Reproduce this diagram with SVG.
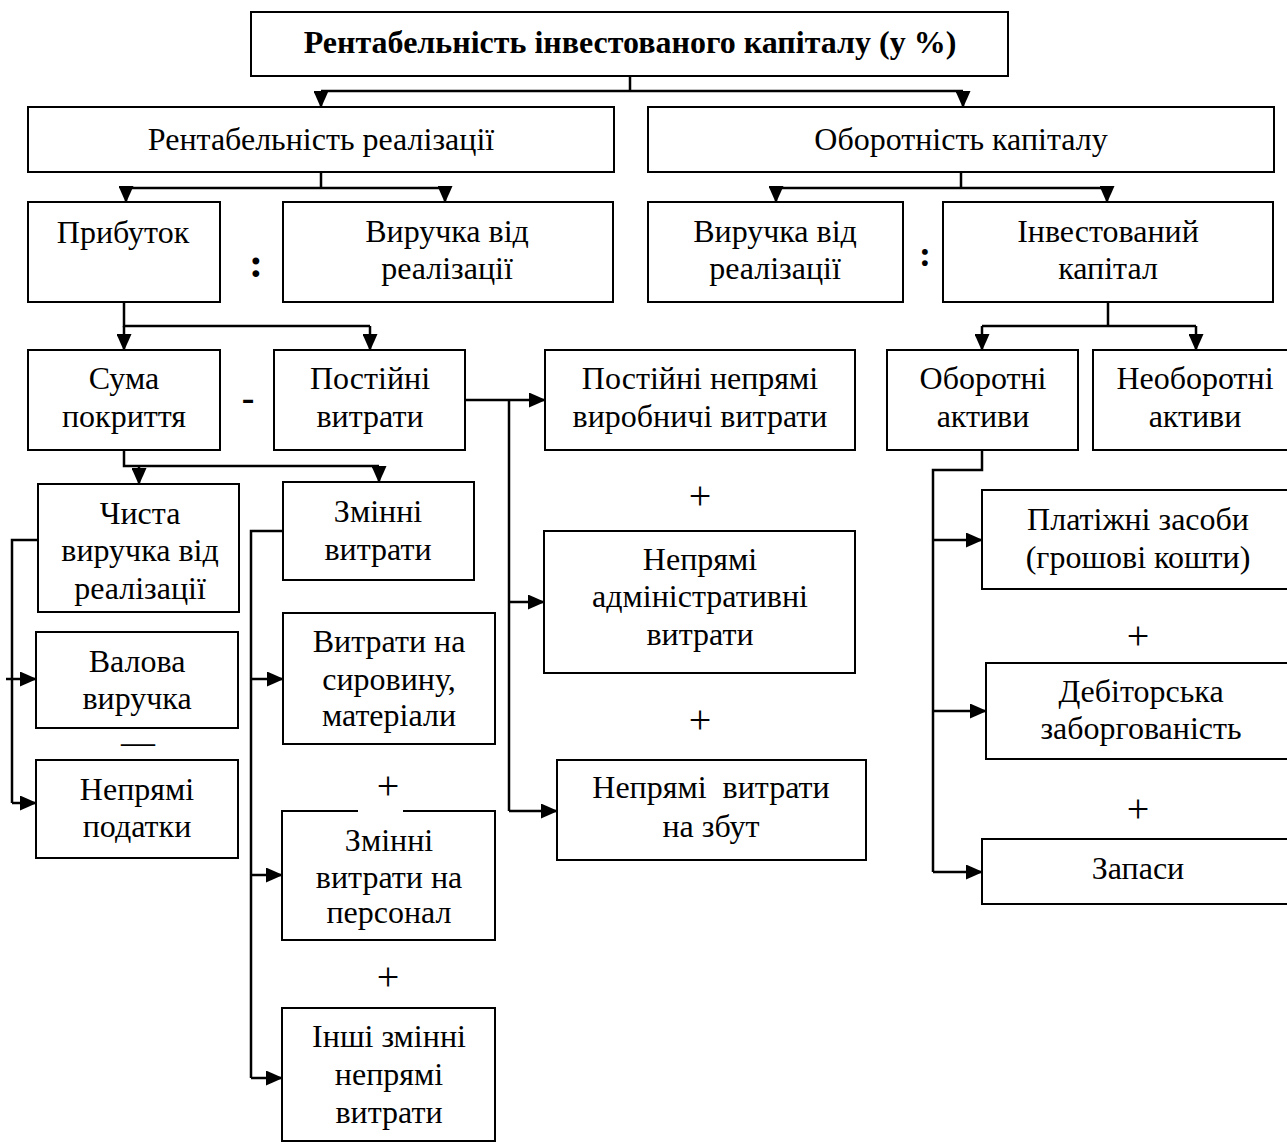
<svg xmlns="http://www.w3.org/2000/svg" width="1287" height="1144" viewBox="0 0 1287 1144">
  <style>
    .box { fill: #fff; stroke: #000; stroke-width: 2; }
    .t { font-family: "Liberation Serif", "Times New Roman", serif; font-size: 32px; fill: #000; text-anchor: middle; }
    .b { font-weight: bold; }
    .op { font-family: "Liberation Serif", "Times New Roman", serif; fill: #000; text-anchor: middle; }
    .plus { font-family: "Liberation Serif", "Times New Roman", serif; font-size: 40px; fill: #000; text-anchor: middle; }
    .line { fill: none; stroke: #000; stroke-width: 2.5; }
    .arrow { fill: none; stroke: #000; stroke-width: 2.5; marker-end: url(#ah); }
  </style>
  <defs>
    <marker id="ah" viewBox="0 0 17 15" refX="16" refY="7.5" markerWidth="17" markerHeight="15" markerUnits="userSpaceOnUse" orient="auto">
      <path d="M0,0 L17,7.5 L0,15 z" fill="#000"/>
    </marker>
  </defs>
  <rect width="1287" height="1144" fill="#fff"/>

  <!-- connectors -->
  <g id="connectors">
    <path class="line" d="M630,76 V91 M321,91 H963"/>
    <path class="arrow" d="M321,91 V107"/>
    <path class="arrow" d="M963,91 V107"/>

    <path class="line" d="M321,172 V188 M126,188 H445"/>
    <path class="arrow" d="M126,188 V202"/>
    <path class="arrow" d="M445,188 V202"/>

    <path class="line" d="M961,172 V188 M776,188 H1107"/>
    <path class="arrow" d="M776,188 V202"/>
    <path class="arrow" d="M1107,188 V202"/>

    <path class="line" d="M124,302 V326 H370"/>
    <path class="arrow" d="M124,326 V350"/>
    <path class="arrow" d="M370,326 V350"/>

    <path class="line" d="M1108,302 V326 M982,326 H1196"/>
    <path class="arrow" d="M982,326 V350"/>
    <path class="arrow" d="M1196,326 V350"/>

    <path class="line" d="M124,450 V466 H379"/>
    <path class="arrow" d="M139,466 V484"/>
    <path class="arrow" d="M379,466 V482"/>

    <path class="arrow" d="M463,400 H545"/>
    <path class="line" d="M509,400 V811"/>
    <path class="arrow" d="M509,602 H544"/>
    <path class="arrow" d="M509,811 H557"/>

    <path class="line" d="M982,450 V470 H933 V872"/>
    <path class="arrow" d="M933,540 H982"/>
    <path class="arrow" d="M933,711 H986"/>
    <path class="arrow" d="M933,872 H982"/>

    <path class="line" d="M38,540 H12 V803"/>
    <path class="arrow" d="M6,679 H36"/>
    <path class="arrow" d="M12,803 H36"/>

    <path class="line" d="M283,531 H251 V1078"/>
    <path class="arrow" d="M251,679 H283"/>
    <path class="arrow" d="M251,875 H282"/>
    <path class="arrow" d="M251,1078 H282"/>
  </g>

  <!-- level 0 -->
  <g id="roic">
    <rect class="box" x="251" y="12" width="757" height="64"/>
    <text class="t b" x="630" y="53">Рентабельність інвестованого капіталу (у %)</text>
  </g>

  <!-- level 1 -->
  <g id="ros">
    <rect class="box" x="28" y="107" width="586" height="65"/>
    <text class="t" x="321" y="150">Рентабельність реалізації</text>
  </g>
  <g id="turnover">
    <rect class="box" x="648" y="107" width="626" height="65"/>
    <text class="t" x="961" y="150">Оборотність капіталу</text>
  </g>

  <!-- level 2 -->
  <g id="profit">
    <rect class="box" x="28" y="202" width="192" height="100"/>
    <text class="t" x="123" y="243">Прибуток</text>
  </g>
  <g id="op-div-left">
    <text class="op b" x="256" y="277" font-size="42">:</text>
  </g>
  <g id="revenue-left">
    <rect class="box" x="283" y="202" width="330" height="100"/>
    <text class="t" x="447" y="242">Виручка від</text>
    <text class="t" x="447" y="279">реалізації</text>
  </g>
  <g id="revenue-right">
    <rect class="box" x="648" y="202" width="255" height="100"/>
    <text class="t" x="775" y="242">Виручка від</text>
    <text class="t" x="775" y="279">реалізації</text>
  </g>
  <g id="op-div-right">
    <text class="op b" x="925" y="266" font-size="36">:</text>
  </g>
  <g id="invested">
    <rect class="box" x="943" y="202" width="330" height="100"/>
    <text class="t" x="1108" y="242">Інвестований</text>
    <text class="t" x="1108" y="279">капітал</text>
  </g>

  <!-- level 3 -->
  <g id="margin">
    <rect class="box" x="28" y="350" width="192" height="100"/>
    <text class="t" x="124" y="389">Сума</text>
    <text class="t" x="124" y="427">покриття</text>
  </g>
  <g id="op-minus">
    <text class="op b" x="248" y="410" font-size="38">-</text>
  </g>
  <g id="fixed">
    <rect class="box" x="274" y="350" width="191" height="100"/>
    <text class="t" x="370" y="389">Постійні</text>
    <text class="t" x="370" y="427">витрати</text>
  </g>
  <g id="fixed-production">
    <rect class="box" x="545" y="350" width="310" height="100"/>
    <text class="t" x="700" y="389">Постійні непрямі</text>
    <text class="t" x="700" y="427">виробничі витрати</text>
  </g>
  <g id="current-assets">
    <rect class="box" x="887" y="350" width="191" height="100"/>
    <text class="t" x="983" y="389">Оборотні</text>
    <text class="t" x="983" y="427">активи</text>
  </g>
  <g id="noncurrent-assets">
    <rect class="box" x="1093" y="350" width="204" height="100"/>
    <text class="t" x="1195" y="389">Необоротні</text>
    <text class="t" x="1195" y="427">активи</text>
  </g>

  <!-- contribution margin branch -->
  <g id="net-revenue">
    <rect class="box" x="38" y="484" width="201" height="128"/>
    <text class="t" x="140" y="524">Чиста</text>
    <text class="t" x="140" y="561">виручка від</text>
    <text class="t" x="140" y="599">реалізації</text>
  </g>
  <g id="gross-revenue">
    <rect class="box" x="36" y="632" width="202" height="96"/>
    <text class="t" x="137" y="672">Валова</text>
    <text class="t" x="137" y="709">виручка</text>
  </g>
  <g id="op-dash">
    <text class="op" x="138" y="753" font-size="34">—</text>
  </g>
  <g id="indirect-taxes">
    <rect class="box" x="36" y="760" width="202" height="98"/>
    <text class="t" x="137" y="800">Непрямі</text>
    <text class="t" x="137" y="837">податки</text>
  </g>

  <g id="variable">
    <rect class="box" x="283" y="482" width="191" height="98"/>
    <text class="t" x="378" y="522">Змінні</text>
    <text class="t" x="378" y="560">витрати</text>
  </g>
  <g id="materials">
    <rect class="box" x="283" y="613" width="212" height="131"/>
    <text class="t" x="389" y="652">Витрати на</text>
    <text class="t" x="389" y="690">сировину,</text>
    <text class="t" x="389" y="726">матеріали</text>
  </g>
  <g id="personnel">
    <rect class="box" x="282" y="811" width="213" height="129"/>
    <text class="t" x="389" y="851">Змінні</text>
    <text class="t" x="389" y="888">витрати на</text>
    <text class="t" x="389" y="923">персонал</text>
  </g>
  <g id="op-plus-1">
    <rect x="358" y="808" width="45" height="6" fill="#fff"/>
    <text class="plus" x="388" y="799">+</text>
  </g>
  <g id="op-plus-2">
    <text class="plus" x="388" y="990">+</text>
  </g>
  <g id="other-variable">
    <rect class="box" x="282" y="1008" width="213" height="133"/>
    <text class="t" x="389" y="1047">Інші змінні</text>
    <text class="t" x="389" y="1085">непрямі</text>
    <text class="t" x="389" y="1123">витрати</text>
  </g>

  <!-- fixed costs branch -->
  <g id="op-plus-3">
    <text class="plus" x="700" y="509">+</text>
  </g>
  <g id="admin">
    <rect class="box" x="544" y="531" width="311" height="142"/>
    <text class="t" x="700" y="570">Непрямі</text>
    <text class="t" x="700" y="607">адміністративні</text>
    <text class="t" x="700" y="645">витрати</text>
  </g>
  <g id="op-plus-4">
    <text class="plus" x="700" y="733">+</text>
  </g>
  <g id="selling">
    <rect class="box" x="557" y="760" width="309" height="100"/>
    <text class="t" x="711" y="798" style="white-space:pre">Непрямі  витрати</text>
    <text class="t" x="711" y="837">на збут</text>
  </g>

  <!-- current assets branch -->
  <g id="cash">
    <rect class="box" x="982" y="490" width="314" height="99"/>
    <text class="t" x="1138" y="530">Платіжні засоби</text>
    <text class="t" x="1138" y="568">(грошові кошти)</text>
  </g>
  <g id="op-plus-5">
    <text class="plus" x="1138" y="649">+</text>
  </g>
  <g id="receivables">
    <rect class="box" x="986" y="663" width="310" height="96"/>
    <text class="t" x="1141" y="702">Дебіторська</text>
    <text class="t" x="1141" y="739">заборгованість</text>
  </g>
  <g id="op-plus-6">
    <text class="plus" x="1138" y="822">+</text>
  </g>
  <g id="inventory">
    <rect class="box" x="982" y="839" width="314" height="65"/>
    <text class="t" x="1138" y="879">Запаси</text>
  </g>
</svg>
